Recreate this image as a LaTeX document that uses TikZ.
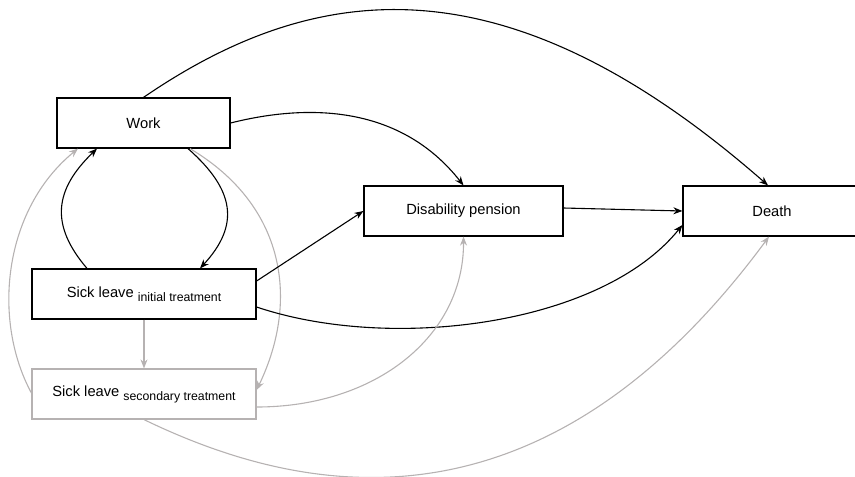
\documentclass[tikz,border=0pt]{standalone}
\usepackage{fontspec}
\setmainfont{Liberation Sans}
\usetikzlibrary{arrows.meta}
\definecolor{mygray}{RGB}{182,178,178}
\newcommand{\lowtext}[1]{\raisebox{-4pt}{\fontsize{12.3}{14}\selectfont #1}}

\begin{document}
\begin{tikzpicture}[x=1pt, y=1pt,
    state/.style={draw, line width=1.2pt, inner sep=0pt, minimum height=50pt,
        font=\fontsize{14.7}{17}\selectfont},
    flow/.style={line width=1.1pt, -{Stealth[length=9pt, width=7pt]}},
    minor/.style={flow, color=mygray}]
    \useasboundingbox (0,0) rectangle (855,-477);
    % States
    \node[state, minimum width=173pt] (work) at (143.5,-123) {Work};
    \node[state, minimum width=199pt] (pension) at (463.5,-211) {Disability pension};
    \node[state, minimum width=178pt] (death) at (772,-211) {Death};
    \node[state, minimum width=224pt] (sickA) at (144,-294)
        {Sick leave \lowtext{initial treatment}};
    \node[state, draw=mygray, minimum width=224pt] (sickB) at (144,-394)
        {Sick leave \lowtext{secondary treatment}};
    % From work
    \draw[flow] (work.north)
        .. controls (315,20) and (505,45) .. ([xshift=-4pt]death.north);
    \draw[flow] (work.east)
        .. controls (310,-103) and (401,-106) .. (pension.north);
    \draw[flow] ([xshift=44.5pt]work.south)
        .. controls (235,-190) and (240,-225) .. ([xshift=56pt]sickA.north);
    \draw[minor] ([xshift=46.5pt]work.south)
        .. controls (285,-205) and (300,-300) .. ([yshift=4pt]sickB.east);
    % From sick leave, initial
    \draw[flow] ([xshift=-57pt]sickA.north)
        .. controls (50,-225) and (54,-190) .. ([xshift=-46.5pt]work.south);
    \draw[minor] (sickA.south) -- (sickB.north);
    \draw[flow] ([yshift=13pt]sickA.east) -- (pension.west);
    \draw[flow] ([yshift=-13pt]sickA.east)
        .. controls (390,-352) and (601,-326) .. ([yshift=-14pt]death.west);
    % From sick leave, secondary
    \draw[minor] ([yshift=1pt]sickB.west)
        .. controls (-8,-320) and (3,-210) .. ([xshift=-65.5pt]work.south);
    \draw[minor] ([yshift=-13pt]sickB.east)
        .. controls (376,-407) and (464,-336) .. (pension.south);
    \draw[minor] (sickB.south)
        .. controls (300,-495) and (540,-547) .. ([xshift=-3pt]death.south);
    % From disability pension
    \draw[flow] ([yshift=3pt]pension.east) -- (death.west);
\end{tikzpicture}
\end{document}
